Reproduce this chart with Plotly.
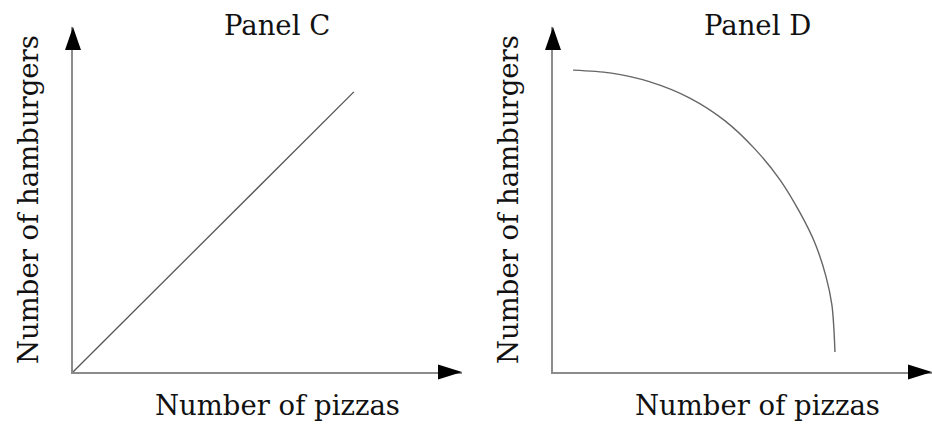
import plotly.graph_objects as go

# Panel C: straight line from the origin
c_pizzas = [0.0, 7.22]
c_hamburgers = [0.0, 8.12]

# Panel D: bowed-out frontier
d_pizzas = [0.53, 1.50, 2.56, 3.61, 4.54, 5.33, 5.99, 6.52, 6.91, 7.20, 7.36, 7.41, 7.44]
d_hamburgers = [8.75, 8.67, 8.41, 7.94, 7.28, 6.46, 5.57, 4.61, 3.74, 2.78, 1.94, 1.28, 0.58]

panel_titles = ["Panel C", "Panel D"]
x_title = "Number of pizzas"
y_title = "Number of hamburgers"

W, H = 932, 426
FONT = "DejaVu Serif"
FONT_SIZE = 27.5
AXIS_GREY = "#8c8c8c"
INK = "#111111"

# pixel geometry of the two panels: origin x, arrow tip x, text centre x
panels = [(73, 462, 277), (553, 932, 757)]
y_origin, y_tip = 372, 27

fig = go.Figure()

fig.add_trace(go.Scatter(x=c_pizzas, y=c_hamburgers, mode="lines",
                         line=dict(color="#555555", width=1.3),
                         xaxis="x", yaxis="y", hoverinfo="skip", showlegend=False))
fig.add_trace(go.Scatter(x=d_pizzas, y=d_hamburgers, mode="lines",
                         line=dict(color="#666666", width=1.4, shape="spline", smoothing=0.8),
                         xaxis="x2", yaxis="y2", hoverinfo="skip", showlegend=False))

ydom = [1 - y_origin / H, 1 - y_tip / H]
axis_common = dict(showgrid=False, zeroline=False, showticklabels=False,
                   showline=True, linecolor=AXIS_GREY, linewidth=1.6,
                   ticks="", range=[0, 10], fixedrange=True)

fig.update_layout(
    width=W, height=H,
    margin=dict(l=0, r=0, t=0, b=0),
    paper_bgcolor="white", plot_bgcolor="white",
    xaxis=dict(domain=[panels[0][0] / W, panels[0][1] / W], anchor="y", **axis_common),
    yaxis=dict(domain=ydom, anchor="x", **axis_common),
    xaxis2=dict(domain=[panels[1][0] / W, min(panels[1][1] / W, 1.0)], anchor="y2", **axis_common),
    yaxis2=dict(domain=ydom, anchor="x2", **axis_common),
)

shapes = []
annotations = []
for i, (x0, x1, cx) in enumerate(panels):
    # arrowheads at the axis ends, sized in pixels
    shapes.append(dict(type="path", xref="paper", yref="paper",
                       xsizemode="pixel", ysizemode="pixel",
                       xanchor=min(x1, W) / W, yanchor=1 - y_origin / H,
                       path="M 0 0 L -24 7.5 L -24 -7.5 Z",
                       fillcolor="black", line=dict(width=0), layer="above"))
    shapes.append(dict(type="path", xref="paper", yref="paper",
                       xsizemode="pixel", ysizemode="pixel",
                       xanchor=x0 / W, yanchor=1 - y_tip / H,
                       path="M 0 0 L -8 -23 L 8 -23 Z",
                       fillcolor="black", line=dict(width=0), layer="above"))

    annotations.append(dict(text=panel_titles[i], xref="paper", yref="paper",
                            x=cx / W, y=1 - 25 / H, xanchor="center", yanchor="middle",
                            showarrow=False, font=dict(family=FONT, size=FONT_SIZE, color=INK)))
    annotations.append(dict(text=x_title, xref="paper", yref="paper",
                            x=cx / W, y=1 - 405 / H, xanchor="center", yanchor="middle",
                            showarrow=False, font=dict(family=FONT, size=FONT_SIZE, color=INK)))
    annotations.append(dict(text=y_title, xref="paper", yref="paper",
                            x=(x0 - 45) / W, y=1 - 200 / H, xanchor="center", yanchor="middle",
                            textangle=-90, showarrow=False,
                            font=dict(family=FONT, size=FONT_SIZE, color=INK)))

fig.update_layout(shapes=shapes, annotations=annotations)

fig.write_html("out.html")
